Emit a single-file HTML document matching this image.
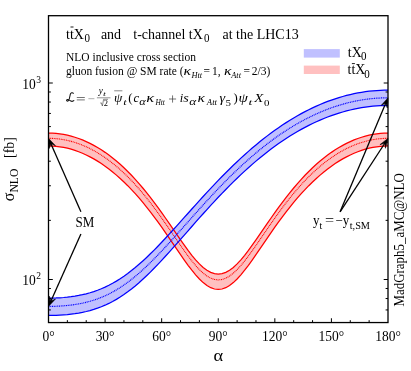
<!DOCTYPE html>
<html><head><meta charset="utf-8">
<style>
html,body{margin:0;padding:0;background:#fff;}
body{width:411px;height:371px;overflow:hidden;position:relative;font-family:"Liberation Serif",serif;color:#000;}
svg{position:absolute;left:0;top:0;will-change:transform;}
text{font-family:"Liberation Serif",serif;fill:#000;}
</style></head><body>
<svg width="411" height="371" viewBox="0 0 411 371">
<rect width="411" height="371" fill="#fff"/>
<path d="M48.50 133.09L52.27 133.18L56.04 133.43L59.82 133.85L63.59 134.44L67.36 135.20L71.13 136.13L74.91 137.23L78.68 138.50L82.45 139.95L86.22 141.57L89.99 143.37L93.77 145.35L97.54 147.50L101.31 149.84L105.08 152.36L108.86 155.07L112.63 157.96L116.40 161.05L120.17 164.32L123.94 167.78L127.72 171.44L131.49 175.29L135.26 179.33L139.03 183.57L142.81 187.99L146.58 192.59L150.35 197.37L154.12 202.32L157.89 207.41L161.67 212.65L165.44 218.00L169.21 223.44L172.98 228.93L176.76 234.43L180.53 239.88L184.30 245.23L188.07 250.39L191.84 255.29L195.62 259.82L199.39 263.90L203.16 267.42L206.93 270.28L210.71 272.39L214.48 273.69L218.25 274.13L222.02 273.69L225.79 272.39L229.57 270.28L233.34 267.42L237.11 263.90L240.88 259.82L244.66 255.29L248.43 250.39L252.20 245.23L255.97 239.88L259.74 234.43L263.52 228.93L267.29 223.44L271.06 218.00L274.83 212.65L278.61 207.41L282.38 202.32L286.15 197.37L289.92 192.59L293.69 187.99L297.47 183.57L301.24 179.33L305.01 175.29L308.78 171.44L312.56 167.78L316.33 164.32L320.10 161.05L323.87 157.96L327.64 155.07L331.42 152.36L335.19 149.84L338.96 147.50L342.73 145.35L346.51 143.37L350.28 141.57L354.05 139.95L357.82 138.50L361.59 137.23L365.37 136.13L369.14 135.20L372.91 134.44L376.68 133.85L380.46 133.43L384.23 133.18L388.00 133.09L388.00 145.99L384.23 146.08L380.46 146.35L376.68 146.80L372.91 147.43L369.14 148.23L365.37 149.22L361.59 150.38L357.82 151.73L354.05 153.25L350.28 154.95L346.51 156.84L342.73 158.90L338.96 161.14L335.19 163.57L331.42 166.18L327.64 168.97L323.87 171.94L320.10 175.10L316.33 178.44L312.56 181.97L308.78 185.68L305.01 189.58L301.24 193.67L297.47 197.94L293.69 202.40L289.92 207.03L286.15 211.84L282.38 216.81L278.61 221.93L274.83 227.20L271.06 232.58L267.29 238.05L263.52 243.58L259.74 249.12L255.97 254.63L252.20 260.03L248.43 265.26L244.66 270.23L240.88 274.85L237.11 279.00L233.34 282.59L229.57 285.51L225.79 287.67L222.02 289.00L218.25 289.44L214.48 289.00L210.71 287.67L206.93 285.51L203.16 282.59L199.39 279.00L195.62 274.85L191.84 270.23L188.07 265.26L184.30 260.03L180.53 254.63L176.76 249.12L172.98 243.58L169.21 238.05L165.44 232.58L161.67 227.20L157.89 221.93L154.12 216.81L150.35 211.84L146.58 207.03L142.81 202.40L139.03 197.94L135.26 193.67L131.49 189.58L127.72 185.68L123.94 181.97L120.17 178.44L116.40 175.10L112.63 171.94L108.86 168.97L105.08 166.18L101.31 163.57L97.54 161.14L93.77 158.90L89.99 156.84L86.22 154.95L82.45 153.25L78.68 151.73L74.91 150.38L71.13 149.22L67.36 148.23L63.59 147.43L59.82 146.80L56.04 146.35L52.27 146.08L48.50 145.99Z" fill="#ffc0c0" stroke="none"/>
<path d="M48.50 298.12L52.27 298.08L56.04 297.97L59.82 297.77L63.59 297.50L67.36 297.14L71.13 296.69L74.91 296.14L78.68 295.48L82.45 294.70L86.22 293.80L89.99 292.77L93.77 291.60L97.54 290.27L101.31 288.79L105.08 287.13L108.86 285.31L112.63 283.31L116.40 281.13L120.17 278.77L123.94 276.22L127.72 273.51L131.49 270.61L135.26 267.55L139.03 264.33L142.81 260.96L146.58 257.46L150.35 253.82L154.12 250.07L157.89 246.21L161.67 242.27L165.44 238.24L169.21 234.16L172.98 230.02L176.76 225.85L180.53 221.65L184.30 217.44L188.07 213.22L191.84 209.01L195.62 204.81L199.39 200.64L203.16 196.50L206.93 192.40L210.71 188.35L214.48 184.34L218.25 180.40L222.02 176.51L225.79 172.70L229.57 168.95L233.34 165.28L237.11 161.68L240.88 158.16L244.66 154.72L248.43 151.36L252.20 148.09L255.97 144.91L259.74 141.81L263.52 138.80L267.29 135.87L271.06 133.04L274.83 130.30L278.61 127.65L282.38 125.09L286.15 122.62L289.92 120.24L293.69 117.95L297.47 115.76L301.24 113.65L305.01 111.64L308.78 109.71L312.56 107.88L316.33 106.14L320.10 104.49L323.87 102.93L327.64 101.46L331.42 100.09L335.19 98.80L338.96 97.60L342.73 96.49L346.51 95.47L350.28 94.54L354.05 93.70L357.82 92.94L361.59 92.28L365.37 91.71L369.14 91.22L372.91 90.82L376.68 90.51L380.46 90.29L384.23 90.16L388.00 90.12L388.00 105.53L384.23 105.57L380.46 105.71L376.68 105.93L372.91 106.24L369.14 106.65L365.37 107.14L361.59 107.72L357.82 108.39L354.05 109.16L350.28 110.01L346.51 110.95L342.73 111.98L338.96 113.11L335.19 114.32L331.42 115.63L327.64 117.03L323.87 118.52L320.10 120.10L316.33 121.77L312.56 123.54L308.78 125.40L305.01 127.35L301.24 129.39L297.47 131.53L293.69 133.76L289.92 136.08L286.15 138.49L282.38 141.00L278.61 143.60L274.83 146.30L271.06 149.08L267.29 151.96L263.52 154.93L259.74 158.00L255.97 161.15L252.20 164.39L248.43 167.72L244.66 171.14L240.88 174.64L237.11 178.22L233.34 181.89L229.57 185.63L225.79 189.45L222.02 193.34L218.25 197.30L214.48 201.33L210.71 205.41L206.93 209.55L203.16 213.73L199.39 217.95L195.62 222.21L191.84 226.49L188.07 230.79L184.30 235.09L180.53 239.39L176.76 243.67L172.98 247.92L169.21 252.13L165.44 256.29L161.67 260.37L157.89 264.38L154.12 268.29L150.35 272.08L146.58 275.76L142.81 279.29L139.03 282.68L135.26 285.90L131.49 288.96L127.72 291.84L123.94 294.54L120.17 297.04L116.40 299.36L112.63 301.49L108.86 303.44L105.08 305.20L101.31 306.78L97.54 308.19L93.77 309.44L89.99 310.55L86.22 311.51L82.45 312.33L78.68 313.04L74.91 313.64L71.13 314.13L67.36 314.54L63.59 314.86L59.82 315.10L56.04 315.27L52.27 315.37L48.50 315.40Z" fill="#c0c0ff" stroke="none"/>
<path d="M48.50 133.09L52.27 133.18L56.04 133.43L59.82 133.85L63.59 134.44L67.36 135.20L71.13 136.13L74.91 137.23L78.68 138.50L82.45 139.95L86.22 141.57L89.99 143.37L93.77 145.35L97.54 147.50L101.31 149.84L105.08 152.36L108.86 155.07L112.63 157.96L116.40 161.05L120.17 164.32L123.94 167.78L127.72 171.44L131.49 175.29L135.26 179.33L139.03 183.57L142.81 187.99L146.58 192.59L150.35 197.37L154.12 202.32L157.89 207.41L161.67 212.65L165.44 218.00L169.21 223.44L172.98 228.93L176.76 234.43L180.53 239.88L184.30 245.23L188.07 250.39L191.84 255.29L195.62 259.82L199.39 263.90L203.16 267.42L206.93 270.28L210.71 272.39L214.48 273.69L218.25 274.13L222.02 273.69L225.79 272.39L229.57 270.28L233.34 267.42L237.11 263.90L240.88 259.82L244.66 255.29L248.43 250.39L252.20 245.23L255.97 239.88L259.74 234.43L263.52 228.93L267.29 223.44L271.06 218.00L274.83 212.65L278.61 207.41L282.38 202.32L286.15 197.37L289.92 192.59L293.69 187.99L297.47 183.57L301.24 179.33L305.01 175.29L308.78 171.44L312.56 167.78L316.33 164.32L320.10 161.05L323.87 157.96L327.64 155.07L331.42 152.36L335.19 149.84L338.96 147.50L342.73 145.35L346.51 143.37L350.28 141.57L354.05 139.95L357.82 138.50L361.59 137.23L365.37 136.13L369.14 135.20L372.91 134.44L376.68 133.85L380.46 133.43L384.23 133.18L388.00 133.09" fill="none" stroke="#ff0000" stroke-width="1.25"/>
<path d="M48.50 145.99L52.27 146.08L56.04 146.35L59.82 146.80L63.59 147.43L67.36 148.23L71.13 149.22L74.91 150.38L78.68 151.73L82.45 153.25L86.22 154.95L89.99 156.84L93.77 158.90L97.54 161.14L101.31 163.57L105.08 166.18L108.86 168.97L112.63 171.94L116.40 175.10L120.17 178.44L123.94 181.97L127.72 185.68L131.49 189.58L135.26 193.67L139.03 197.94L142.81 202.40L146.58 207.03L150.35 211.84L154.12 216.81L157.89 221.93L161.67 227.20L165.44 232.58L169.21 238.05L172.98 243.58L176.76 249.12L180.53 254.63L184.30 260.03L188.07 265.26L191.84 270.23L195.62 274.85L199.39 279.00L203.16 282.59L206.93 285.51L210.71 287.67L214.48 289.00L218.25 289.44L222.02 289.00L225.79 287.67L229.57 285.51L233.34 282.59L237.11 279.00L240.88 274.85L244.66 270.23L248.43 265.26L252.20 260.03L255.97 254.63L259.74 249.12L263.52 243.58L267.29 238.05L271.06 232.58L274.83 227.20L278.61 221.93L282.38 216.81L286.15 211.84L289.92 207.03L293.69 202.40L297.47 197.94L301.24 193.67L305.01 189.58L308.78 185.68L312.56 181.97L316.33 178.44L320.10 175.10L323.87 171.94L327.64 168.97L331.42 166.18L335.19 163.57L338.96 161.14L342.73 158.90L346.51 156.84L350.28 154.95L354.05 153.25L357.82 151.73L361.59 150.38L365.37 149.22L369.14 148.23L372.91 147.43L376.68 146.80L380.46 146.35L384.23 146.08L388.00 145.99" fill="none" stroke="#ff0000" stroke-width="1.25"/>
<path d="M48.50 138.31L52.27 138.40L56.04 138.65L59.82 139.07L63.59 139.66L67.36 140.42L71.13 141.36L74.91 142.46L78.68 143.73L82.45 145.18L86.22 146.81L89.99 148.61L93.77 150.59L97.54 152.75L101.31 155.09L105.08 157.62L108.86 160.33L112.63 163.23L116.40 166.32L120.17 169.60L123.94 173.07L127.72 176.74L131.49 180.60L135.26 184.65L139.03 188.90L142.81 193.33L146.58 197.95L150.35 202.75L154.12 207.71L157.89 212.83L161.67 218.08L165.44 223.46L169.21 228.92L172.98 234.44L176.76 239.96L180.53 245.45L184.30 250.82L188.07 256.02L191.84 260.95L195.62 265.52L199.39 269.62L203.16 273.17L206.93 276.05L210.71 278.18L214.48 279.49L218.25 279.93L222.02 279.49L225.79 278.18L229.57 276.05L233.34 273.17L237.11 269.62L240.88 265.52L244.66 260.95L248.43 256.02L252.20 250.82L255.97 245.45L259.74 239.96L263.52 234.44L267.29 228.92L271.06 223.46L274.83 218.08L278.61 212.83L282.38 207.71L286.15 202.75L289.92 197.95L293.69 193.33L297.47 188.90L301.24 184.65L305.01 180.60L308.78 176.74L312.56 173.07L316.33 169.60L320.10 166.32L323.87 163.23L327.64 160.33L331.42 157.62L335.19 155.09L338.96 152.75L342.73 150.59L346.51 148.61L350.28 146.81L354.05 145.18L357.82 143.73L361.59 142.46L365.37 141.36L369.14 140.42L372.91 139.66L376.68 139.07L380.46 138.65L384.23 138.40L388.00 138.31" fill="none" stroke="#ff0000" stroke-width="1.1" stroke-dasharray="1 0.75"/>
<path d="M48.50 298.12L52.27 298.08L56.04 297.97L59.82 297.77L63.59 297.50L67.36 297.14L71.13 296.69L74.91 296.14L78.68 295.48L82.45 294.70L86.22 293.80L89.99 292.77L93.77 291.60L97.54 290.27L101.31 288.79L105.08 287.13L108.86 285.31L112.63 283.31L116.40 281.13L120.17 278.77L123.94 276.22L127.72 273.51L131.49 270.61L135.26 267.55L139.03 264.33L142.81 260.96L146.58 257.46L150.35 253.82L154.12 250.07L157.89 246.21L161.67 242.27L165.44 238.24L169.21 234.16L172.98 230.02L176.76 225.85L180.53 221.65L184.30 217.44L188.07 213.22L191.84 209.01L195.62 204.81L199.39 200.64L203.16 196.50L206.93 192.40L210.71 188.35L214.48 184.34L218.25 180.40L222.02 176.51L225.79 172.70L229.57 168.95L233.34 165.28L237.11 161.68L240.88 158.16L244.66 154.72L248.43 151.36L252.20 148.09L255.97 144.91L259.74 141.81L263.52 138.80L267.29 135.87L271.06 133.04L274.83 130.30L278.61 127.65L282.38 125.09L286.15 122.62L289.92 120.24L293.69 117.95L297.47 115.76L301.24 113.65L305.01 111.64L308.78 109.71L312.56 107.88L316.33 106.14L320.10 104.49L323.87 102.93L327.64 101.46L331.42 100.09L335.19 98.80L338.96 97.60L342.73 96.49L346.51 95.47L350.28 94.54L354.05 93.70L357.82 92.94L361.59 92.28L365.37 91.71L369.14 91.22L372.91 90.82L376.68 90.51L380.46 90.29L384.23 90.16L388.00 90.12" fill="none" stroke="#0000ff" stroke-width="1.25"/>
<path d="M48.50 315.40L52.27 315.37L56.04 315.27L59.82 315.10L63.59 314.86L67.36 314.54L71.13 314.13L74.91 313.64L78.68 313.04L82.45 312.33L86.22 311.51L89.99 310.55L93.77 309.44L97.54 308.19L101.31 306.78L105.08 305.20L108.86 303.44L112.63 301.49L116.40 299.36L120.17 297.04L123.94 294.54L127.72 291.84L131.49 288.96L135.26 285.90L139.03 282.68L142.81 279.29L146.58 275.76L150.35 272.08L154.12 268.29L157.89 264.38L161.67 260.37L165.44 256.29L169.21 252.13L172.98 247.92L176.76 243.67L180.53 239.39L184.30 235.09L188.07 230.79L191.84 226.49L195.62 222.21L199.39 217.95L203.16 213.73L206.93 209.55L210.71 205.41L214.48 201.33L218.25 197.30L222.02 193.34L225.79 189.45L229.57 185.63L233.34 181.89L237.11 178.22L240.88 174.64L244.66 171.14L248.43 167.72L252.20 164.39L255.97 161.15L259.74 158.00L263.52 154.93L267.29 151.96L271.06 149.08L274.83 146.30L278.61 143.60L282.38 141.00L286.15 138.49L289.92 136.08L293.69 133.76L297.47 131.53L301.24 129.39L305.01 127.35L308.78 125.40L312.56 123.54L316.33 121.77L320.10 120.10L323.87 118.52L327.64 117.03L331.42 115.63L335.19 114.32L338.96 113.11L342.73 111.98L346.51 110.95L350.28 110.01L354.05 109.16L357.82 108.39L361.59 107.72L365.37 107.14L369.14 106.65L372.91 106.24L376.68 105.93L380.46 105.71L384.23 105.57L388.00 105.53" fill="none" stroke="#0000ff" stroke-width="1.25"/>
<path d="M48.50 306.40L52.27 306.37L56.04 306.26L59.82 306.08L63.59 305.82L67.36 305.48L71.13 305.05L74.91 304.52L78.68 303.89L82.45 303.15L86.22 302.28L89.99 301.29L93.77 300.15L97.54 298.86L101.31 297.41L105.08 295.79L108.86 294.00L112.63 292.02L116.40 289.87L120.17 287.53L123.94 285.01L127.72 282.31L131.49 279.43L135.26 276.37L139.03 273.16L142.81 269.79L146.58 266.27L150.35 262.63L154.12 258.86L157.89 254.99L161.67 251.02L165.44 246.98L169.21 242.87L172.98 238.71L176.76 234.50L180.53 230.28L184.30 226.03L188.07 221.78L191.84 217.54L195.62 213.31L199.39 209.10L203.16 204.93L206.93 200.80L210.71 196.71L214.48 192.67L218.25 188.70L222.02 184.78L225.79 180.94L229.57 177.16L233.34 173.46L237.11 169.83L240.88 166.28L244.66 162.82L248.43 159.44L252.20 156.14L255.97 152.93L259.74 149.81L263.52 146.78L267.29 143.84L271.06 140.99L274.83 138.23L278.61 135.56L282.38 132.98L286.15 130.49L289.92 128.10L293.69 125.80L297.47 123.59L301.24 121.47L305.01 119.44L308.78 117.51L312.56 115.67L316.33 113.92L320.10 112.26L323.87 110.69L327.64 109.21L331.42 107.82L335.19 106.53L338.96 105.32L342.73 104.21L346.51 103.18L350.28 102.25L354.05 101.40L357.82 100.64L361.59 99.98L365.37 99.40L369.14 98.91L372.91 98.51L376.68 98.20L380.46 97.98L384.23 97.84L388.00 97.80" fill="none" stroke="#0000ff" stroke-width="1.2" stroke-dasharray="1 0.75"/>
<path d="M48.5 309.94h2.4M388.0 309.94h-2.4M48.5 298.54h2.4M388.0 298.54h-2.4M48.5 288.49h2.4M388.0 288.49h-2.4M48.5 279.50h4.3M388.0 279.50h-4.3M48.5 220.35h2.4M388.0 220.35h-2.4M48.5 185.75h2.4M388.0 185.75h-2.4M48.5 161.20h2.4M388.0 161.20h-2.4M48.5 142.15h2.4M388.0 142.15h-2.4M48.5 126.59h2.4M388.0 126.59h-2.4M48.5 113.44h2.4M388.0 113.44h-2.4M48.5 102.04h2.4M388.0 102.04h-2.4M48.5 91.99h2.4M388.0 91.99h-2.4M48.5 83.00h4.3M388.0 83.00h-4.3M67.36 322.55v-2.4M86.22 322.55v-2.4M105.08 322.55v-4.3M123.94 322.55v-2.4M142.81 322.55v-2.4M161.67 322.55v-4.3M180.53 322.55v-2.4M199.39 322.55v-2.4M218.25 322.55v-4.3M237.11 322.55v-2.4M255.97 322.55v-2.4M274.83 322.55v-4.3M293.69 322.55v-2.4M312.56 322.55v-2.4M331.42 322.55v-4.3M350.28 322.55v-2.4M369.14 322.55v-2.4" stroke="#000" stroke-width="1" fill="none"/>
<rect x="48.5" y="15.7" width="339.5" height="306.85" fill="none" stroke="#000" stroke-width="1.3"/>
<line x1="80.9" y1="211.7" x2="49.81" y2="141.15" stroke="#000" stroke-width="1.3"/><polygon points="48.60,138.40 55.45,145.76 50.82,143.43 49.41,148.42" fill="#000" stroke="#000" stroke-width="0.6" stroke-linejoin="miter"/><line x1="80.9" y1="234.1" x2="49.83" y2="303.56" stroke="#000" stroke-width="1.3"/><polygon points="48.60,306.30 49.47,296.28 50.85,301.28 55.49,298.98" fill="#000" stroke="#000" stroke-width="0.6" stroke-linejoin="miter"/><line x1="340.1" y1="211.8" x2="386.74" y2="100.67" stroke="#000" stroke-width="1.3"/><polygon points="387.90,97.90 387.27,107.94 385.77,102.97 381.18,105.38" fill="#000" stroke="#000" stroke-width="0.6" stroke-linejoin="miter"/><line x1="340.1" y1="211.8" x2="386.26" y2="141.01" stroke="#000" stroke-width="1.3"/><polygon points="387.90,138.50 385.47,148.26 384.90,143.11 379.95,144.65" fill="#000" stroke="#000" stroke-width="0.6" stroke-linejoin="miter"/>
<text transform="translate(48.5,341) scale(1,1.1)" font-size="13.5" text-anchor="middle">0°</text>
<text transform="translate(105.08,341) scale(1,1.1)" font-size="13.5" text-anchor="middle">30°</text>
<text transform="translate(161.67,341) scale(1,1.1)" font-size="13.5" text-anchor="middle">60°</text>
<text transform="translate(218.25,341) scale(1,1.1)" font-size="13.5" text-anchor="middle">90°</text>
<text transform="translate(274.83,341) scale(1,1.1)" font-size="13.5" text-anchor="middle">120°</text>
<text transform="translate(331.42,341) scale(1,1.1)" font-size="13.5" text-anchor="middle">150°</text>
<text transform="translate(388.0,341) scale(1,1.1)" font-size="13.5" text-anchor="middle">180°</text>
<text transform="translate(66,38.5) scale(1,1.1)" font-size="14">ttX</text>
<path d="M70.5 27H73.5" stroke="#000" stroke-width="0.9"/>
<text transform="translate(84.4,42.2) scale(1,1.1)" font-size="11">0</text>
<text transform="translate(100.9,38.5) scale(1,1.1)" font-size="14">and</text>
<text transform="translate(133.3,38.5) scale(1,1.1)" font-size="14">t-channel tX</text>
<text transform="translate(204,42.2) scale(1,1.1)" font-size="11">0</text>
<text transform="translate(222.5,38.5) scale(1,1.1)" font-size="14">at the LHC13</text>
<text transform="translate(66,61.4) scale(1,1.1)" font-size="11.5">NLO inclusive cross section</text>
<text transform="translate(66,75.3) scale(1,1.1)" font-size="11.5">gluon fusion @ SM rate (</text>
<text transform="translate(183.4,75.3) scale(1.3,1.1)" font-size="12" font-style="italic">κ</text>
<text transform="translate(191.4,77.9) scale(1,1.1)" font-size="8.4" font-style="italic">Htt</text>
<text transform="translate(203.6,75.3) scale(1,1.1)" font-size="11.5">=</text>
<text transform="translate(212,75.3) scale(1,1.1)" font-size="11.5">1,</text>
<text transform="translate(224.0,75.3) scale(1.3,1.1)" font-size="12" font-style="italic">κ</text>
<text transform="translate(231.2,77.9) scale(1,1.1)" font-size="8.4" font-style="italic">Att</text>
<text transform="translate(243.4,75.3) scale(1,1.1)" font-size="11.5">=</text>
<text transform="translate(251.7,75.3) scale(1,1.1)" font-size="11.5">2/3)</text>
<rect x="303.8" y="49.1" width="36" height="8.5" fill="#c0c0ff"/>
<rect x="303.8" y="65.6" width="36" height="8.4" fill="#ffc0c0"/>
<text transform="translate(347.8,57) scale(1,1.1)" font-size="14">tX</text>
<text transform="translate(361,60.4) scale(1,1.1)" font-size="11">0</text>
<text transform="translate(347.5,74) scale(1,1.1)" font-size="14">ttX</text>
<text transform="translate(364.2,77.8) scale(1,1.1)" font-size="11">0</text>
<path d="M351.9 63.6H354.9" stroke="#000" stroke-width="0.9"/>
<text transform="translate(213.5,361) scale(1.15,1.1)" font-size="16">α</text>
<text transform="translate(35.8,88.7) scale(1,1.1)" font-size="13.5" text-anchor="end">10</text>
<text transform="translate(36.2,82.6) scale(1,1.1)" font-size="9.5">3</text>
<text transform="translate(35.8,285.2) scale(1,1.1)" font-size="13.5" text-anchor="end">10</text>
<text transform="translate(36.2,279.1) scale(1,1.1)" font-size="9.5">2</text>
<g transform="translate(14.3,201.2) rotate(-90)"><text transform="translate(0,0) scale(1,1.0)" font-size="16">σ</text><text transform="translate(8.7,3.8) scale(1,1.1)" font-size="11.6">NLO</text><text transform="translate(43.3,-0.3) scale(1,1.0)" font-size="13.8">[fb]</text></g>
<g transform="translate(403.5,306.6) rotate(-90)"><text transform="translate(0,0) scale(1,1.1)" font-size="12.95">MadGraph5_aMC@NLO</text></g>
<text transform="translate(75.6,227) scale(1,1.1)" font-size="13">SM</text>
<text transform="translate(312.9,225.3) scale(1.05,1.1)" font-size="12.4">y</text>
<text transform="translate(319.6,229) scale(1,0.95)" font-size="10">t</text>
<text transform="translate(325.0,225.3) scale(1.3,1.1)" font-size="12.4">=</text>
<text transform="translate(335.5,225.3) scale(1.05,1.1)" font-size="12.4">−</text>
<text transform="translate(342.7,225.3) scale(1.05,1.1)" font-size="12.4">y</text>
<text transform="translate(349.7,229) scale(1.03,0.95)" font-size="10">t,SM</text>
<g>
<path d="M73.6 93.6 C72.6 92.2 70.6 92.6 70.2 94.6 C69.8 97 69.6 99.2 68.4 100.6 C67.6 101.5 66.4 101.2 66.6 100.2 C66.9 99.2 68.4 99.3 69.4 100.2 C70.8 101.4 72.6 101.9 74.2 100.4" fill="none" stroke="#111" stroke-width="1.05"/>
<path d="M76.8 97.5H84.8M76.8 99.9H84.8" stroke="#383838" stroke-width="0.7" fill="none"/>
<path d="M88.4 98.7H94.4" stroke="#888" stroke-width="0.7" fill="none"/>
<path d="M96.9 97.8H110.5" stroke="#666" stroke-width="0.7" fill="none"/>
<text transform="translate(98.86,94.2) scale(0.957,1)" font-size="9.5" font-style="italic" fill="#383838" fill-opacity="1">y</text>
<text transform="translate(102.95,96.2) scale(1.575,1)" font-size="6.5" font-style="italic" fill="#383838" fill-opacity="1">t</text>
<path d="M100.3 103.2L101.2 102.7L102.4 106L103.6 99.3H108" stroke="#383838" stroke-width="0.6" fill="none"/>
<text transform="translate(103.83,106.1) scale(1.131,1)" font-size="7.5" font-style="normal" fill="#383838" fill-opacity="1">2</text>
<text transform="translate(114.00,101.8) scale(1.070,1)" font-size="12.5" font-style="italic" fill="#383838" fill-opacity="1">ψ</text>
<path d="M114.2 90.8H122.4" stroke="#555" stroke-width="0.7" fill="none"/>
<text transform="translate(123.16,104.8) scale(1.357,1)" font-size="9" font-style="italic" fill="#383838" fill-opacity="1">t</text>
<text transform="translate(128.14,102) scale(0.952,1)" font-size="13.5" font-style="normal" fill="#383838" fill-opacity="1">(</text>
<text transform="translate(133.51,101.8) scale(1.014,1)" font-size="12.5" font-style="italic" fill="#383838" fill-opacity="1">c</text>
<text transform="translate(139.13,104.7) scale(1.296,1)" font-size="9.5" font-style="italic" fill="#383838" fill-opacity="1">α</text>
<text transform="translate(146.20,101.8) scale(1.321,1)" font-size="12.5" font-style="italic" fill="#383838" fill-opacity="1">κ</text>
<text transform="translate(155.38,105) scale(0.927,1)" font-size="8" font-style="italic" fill="#383838" fill-opacity="1">Htt</text>
<path d="M169 99H176.1M172.55 95.4V102.6" stroke="#383838" stroke-width="0.7" fill="none"/>
<text transform="translate(179.70,101.8) scale(1.001,1)" font-size="12.5" font-style="italic" fill="#383838" fill-opacity="1">i</text>
<text transform="translate(183.13,101.8) scale(1.131,1)" font-size="12.5" font-style="italic" fill="#383838" fill-opacity="1">s</text>
<text transform="translate(189.20,104.7) scale(1.399,1)" font-size="9.5" font-style="italic" fill="#383838" fill-opacity="1">α</text>
<text transform="translate(197.54,101.8) scale(1.233,1)" font-size="12.5" font-style="italic" fill="#383838" fill-opacity="1">κ</text>
<text transform="translate(206.78,105) scale(1.098,1)" font-size="8" font-style="italic" fill="#383838" fill-opacity="1">Att</text>
<text transform="translate(219.44,101.8) scale(1.146,1)" font-size="12.5" font-style="italic" fill="#383838" fill-opacity="1">γ</text>
<text transform="translate(225.57,105.8) scale(1.332,1)" font-size="8.2" font-style="normal" fill="#383838" fill-opacity="1">5</text>
<text transform="translate(233.49,102) scale(0.952,1)" font-size="13.5" font-style="normal" fill="#383838" fill-opacity="1">)</text>
<text transform="translate(238.60,101.8) scale(1.209,1)" font-size="12.5" font-style="italic" fill="#383838" fill-opacity="1">ψ</text>
<text transform="translate(248.39,104.8) scale(1.532,1)" font-size="9" font-style="italic" fill="#383838" fill-opacity="1">t</text>
<text transform="translate(254.29,101.8) scale(1.183,1)" font-size="12.5" font-style="italic" fill="#383838" fill-opacity="1">X</text>
<text transform="translate(264.09,106) scale(1.233,1)" font-size="8.8" font-style="normal" fill="#383838" fill-opacity="1">0</text>
</g>
</svg>
</body></html>
